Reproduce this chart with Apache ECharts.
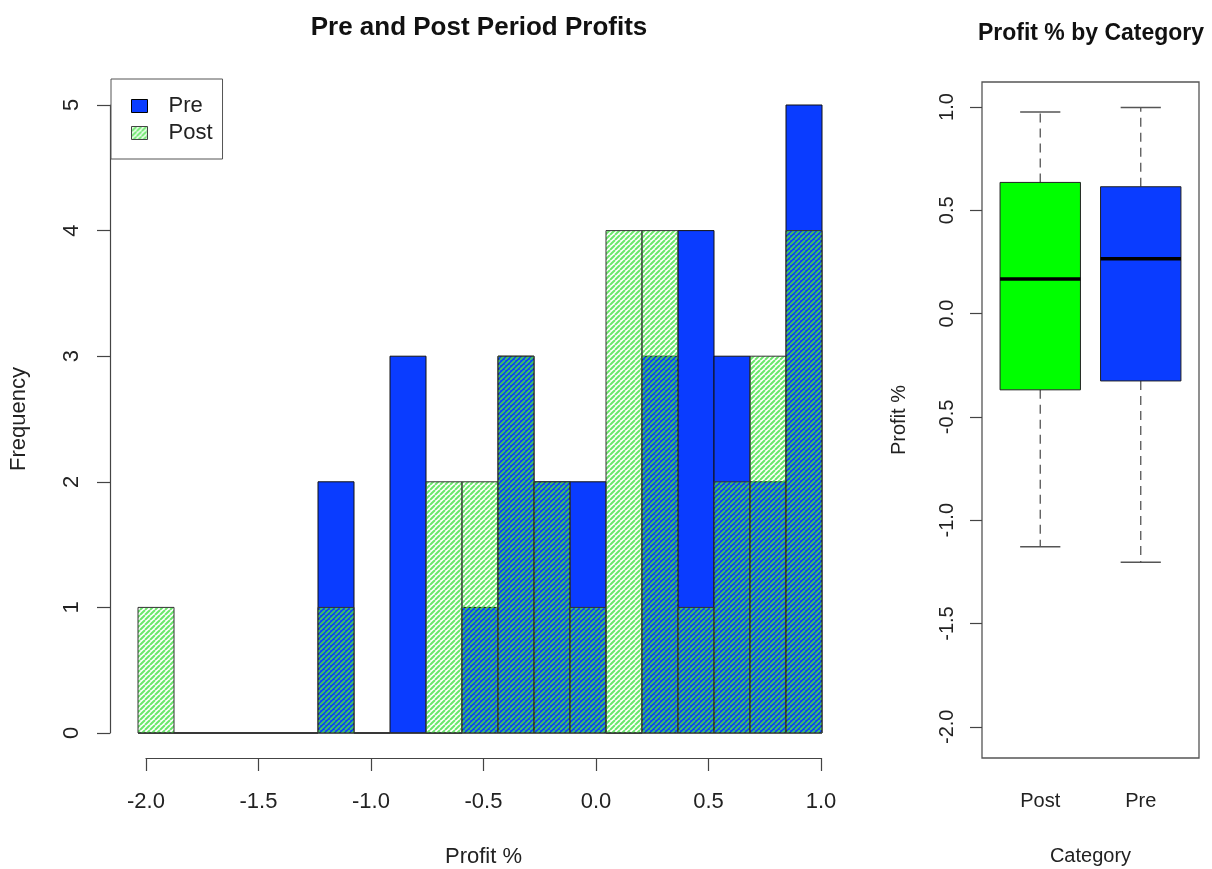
<!DOCTYPE html>
<html>
<head>
<meta charset="utf-8">
<script src="https://cdn.jsdelivr.net/npm/echarts@6/dist/echarts.min.js"></script>
<style>
  html, body { margin: 0; padding: 0; background: #fff; }
  #chart { width: 1212px; height: 869px; }
</style>
</head>
<body>
<div id="chart"></div>
<script>
// histogram breaks and counts (Profit %)
const binEdges = [-2.036, -1.876, -1.716, -1.556, -1.396, -1.236, -1.076, -0.916, -0.756, -0.596,
  -0.436, -0.276, -0.116, 0.044, 0.204, 0.364, 0.524, 0.684, 0.844, 1.004]
const preCounts = [0, 0, 0, 0, 0, 2, 0, 3, 0, 1, 3, 2, 2, 0, 3, 4, 3, 2, 5]
const postCounts = [1, 0, 0, 0, 0, 1, 0, 0, 2, 2, 3, 2, 1, 4, 4, 1, 2, 3, 4]
const profitAxisTicks = [-2.0, -1.5, -1.0, -0.5, 0.0, 0.5, 1.0]
const freqTicks = [0, 1, 2, 3, 4, 5]

// boxplot: [low whisker, Q1, median, Q3, high whisker]
const categories = ['Post', 'Pre']
const boxStats = [
  [-1.129, -0.369, 0.168, 0.635, 0.976],
  [-1.203, -0.326, 0.266, 0.614, 0.997]
]
const outliers = [['Post', -2.032]]
const boxTicks = [-2.0, -1.5, -1.0, -0.5, 0.0, 0.5, 1.0]

const FONT = '"Liberation Sans", Arial, Helvetica, sans-serif'
const BLUE = '#0a3cff'
const GREEN = '#00ff00'
const boxColors = [GREEN, BLUE]

// diagonal hatch like R's density lines
const makeHatch = () => {
  const s = 5
  const c = document.createElement('canvas')
  c.width = s
  c.height = s
  const ctx = c.getContext('2d')
  ctx.strokeStyle = 'rgba(70, 225, 70, 0.8)'
  ctx.lineWidth = 2
  ctx.beginPath()
  for (let k = -1; k <= 1; k++) {
    ctx.moveTo(k * s, s)
    ctx.lineTo(k * s + s, 0)
  }
  ctx.stroke()
  return { image: c, repeat: 'repeat' }
}
const hatch = makeHatch()

const binData = (counts) => counts.map((n, i) => [binEdges[i], binEdges[i + 1], n])

const barRenderer = (fill, stroke) => (params, api) => {
  const p0 = api.coord([api.value(0), 0])
  const p1 = api.coord([api.value(1), api.value(2)])
  return {
    type: 'rect',
    shape: { x: p0[0], y: p1[1], width: p1[0] - p0[0], height: p0[1] - p1[1] },
    style: { fill: fill, stroke: stroke, lineWidth: 1 }
  }
}

const boxRenderer = (params, api) => {
  const i = api.value(0)
  const low = api.coord([i, api.value(1)])
  const q1 = api.coord([i, api.value(2)])
  const med = api.coord([i, api.value(3)])
  const q3 = api.coord([i, api.value(4)])
  const high = api.coord([i, api.value(5)])
  const bw = api.size([1, 0])[0] * 0.8
  const cx = med[0]
  const dash = { stroke: '#555', lineWidth: 1.3, lineDash: [9, 6] }
  const solid = { stroke: '#555', lineWidth: 1.5 }
  return {
    type: 'group',
    children: [
      { type: 'line', shape: { x1: cx, y1: q3[1], x2: cx, y2: high[1] }, style: dash },
      { type: 'line', shape: { x1: cx, y1: q1[1], x2: cx, y2: low[1] }, style: dash },
      { type: 'line', shape: { x1: cx - bw / 4, y1: high[1], x2: cx + bw / 4, y2: high[1] }, style: solid },
      { type: 'line', shape: { x1: cx - bw / 4, y1: low[1], x2: cx + bw / 4, y2: low[1] }, style: solid },
      {
        type: 'rect',
        shape: { x: cx - bw / 2, y: q3[1], width: bw, height: q1[1] - q3[1] },
        style: { fill: boxColors[i], stroke: '#222', lineWidth: 1 }
      },
      { type: 'line', shape: { x1: cx - bw / 2, y1: med[1], x2: cx + bw / 2, y2: med[1] }, style: { stroke: '#000', lineWidth: 3.5 } }
    ]
  }
}

const axisText = (size) => ({ fontSize: size, color: '#222', fontFamily: FONT })

const chart = echarts.init(document.getElementById('chart'))

const option = {
  animation: false,
  backgroundColor: '#fff',
  title: [
    {
      text: 'Pre and Post Period Profits', left: 479, top: 15, textAlign: 'center', padding: 0,
      textStyle: { fontSize: 26, fontWeight: 'bold', color: '#111', fontFamily: FONT }
    },
    {
      text: 'Profit % by Category', left: 1091, top: 22, textAlign: 'center', padding: 0,
      textStyle: { fontSize: 23, fontWeight: 'bold', color: '#111', fontFamily: FONT }
    }
  ],
  legend: {
    orient: 'vertical',
    left: 111,
    top: 79,
    padding: [16, 10, 15, 20],
    itemGap: 5,
    itemWidth: 16,
    itemHeight: 13,
    backgroundColor: '#fff',
    borderColor: '#555',
    borderWidth: 1,
    selectedMode: false,
    textStyle: { fontSize: 22, color: '#222', fontFamily: FONT, padding: [0, 0, 0, 16] },
    data: [
      { name: 'Pre', icon: 'rect', itemStyle: { color: BLUE, borderColor: '#000', borderWidth: 1 } },
      { name: 'Post', icon: 'rect', itemStyle: { color: hatch, borderColor: '#444', borderWidth: 1 } }
    ]
  },
  grid: [
    { left: 138, top: 105, width: 684, height: 628, outerBoundsMode: 'none' },
    { left: 146, top: 757, width: 675, height: 1, outerBoundsMode: 'none' },
    { left: 982, top: 82, width: 217, height: 676, show: true, borderColor: '#555', borderWidth: 1.3, outerBoundsMode: 'none' },
    { left: 990, top: 82, width: 201, height: 676, outerBoundsMode: 'none' }
  ],
  xAxis: [
    { gridIndex: 0, type: 'value', min: binEdges[0], max: binEdges[binEdges.length - 1], show: false },
    {
      gridIndex: 1, type: 'value', min: profitAxisTicks[0], max: profitAxisTicks[profitAxisTicks.length - 1], interval: 0.5,
      axisLine: { onZero: false, lineStyle: { color: '#444', width: 1.2 } },
      axisTick: { length: 13, lineStyle: { color: '#444', width: 1.2 } },
      axisLabel: { ...axisText(22), margin: 33, formatter: (v) => v.toFixed(1), showMinLabel: true, showMaxLabel: true },
      splitLine: { show: false },
      name: 'Profit %', nameLocation: 'middle', nameGap: 88, nameTextStyle: axisText(22)
    },
    { gridIndex: 2, type: 'value', min: 0, max: 1, show: false },
    {
      gridIndex: 3, type: 'category', data: categories,
      axisLine: { show: false, onZero: false },
      axisTick: { alignWithLabel: true, length: 14, lineStyle: { color: '#444', width: 1.2 } },
      axisLabel: { ...axisText(20), margin: 33 },
      name: 'Category', nameLocation: 'middle', nameGap: 88, nameTextStyle: axisText(20)
    }
  ],
  yAxis: [
    {
      gridIndex: 0, type: 'value', min: freqTicks[0], max: freqTicks[freqTicks.length - 1], interval: 1, offset: 28,
      axisLine: { show: true, onZero: false, lineStyle: { color: '#444', width: 1.2 } },
      axisTick: { show: true, length: 13, lineStyle: { color: '#444', width: 1.2 } },
      axisLabel: { ...axisText(22), rotate: 90, margin: 27 },
      splitLine: { show: false },
      name: 'Frequency', nameLocation: 'middle', nameGap: 80, nameTextStyle: axisText(22)
    },
    { gridIndex: 1, type: 'value', show: false },
    { gridIndex: 2, type: 'value', min: 0, max: 1, show: false },
    {
      gridIndex: 3, type: 'value', min: -2.151, max: 1.121, offset: 8,
      axisLine: { show: false, onZero: false },
      axisTick: { show: true, length: 12, customValues: boxTicks, lineStyle: { color: '#444', width: 1.2 } },
      axisLabel: { ...axisText(20), rotate: 90, margin: 25, customValues: boxTicks, formatter: (v) => v.toFixed(1) },
      splitLine: { show: false },
      name: 'Profit %', nameLocation: 'middle', nameGap: 73, nameTextStyle: axisText(20)
    }
  ],
  series: [
    {
      name: 'Pre', type: 'custom', xAxisIndex: 0, yAxisIndex: 0,
      itemStyle: { color: BLUE },
      renderItem: barRenderer(BLUE, '#111'),
      encode: { x: [0, 1], y: 2 },
      data: binData(preCounts)
    },
    {
      name: 'Post', type: 'custom', xAxisIndex: 0, yAxisIndex: 0,
      itemStyle: { color: '#90ee90' },
      renderItem: barRenderer(hatch, '#333'),
      encode: { x: [0, 1], y: 2 },
      data: binData(postCounts)
    },
    {
      name: 'box', type: 'custom', xAxisIndex: 3, yAxisIndex: 3,
      renderItem: boxRenderer,
      encode: { x: 0, y: [1, 2, 3, 4, 5] },
      data: boxStats.map((s, i) => [i, ...s])
    },
    {
      name: 'outlier', type: 'scatter', xAxisIndex: 3, yAxisIndex: 3,
      symbol: 'emptyCircle', symbolSize: 10,
      itemStyle: { color: '#fff', borderColor: '#222', borderWidth: 1.3 },
      data: outliers
    }
  ]
}

chart.setOption(option)
</script>
</body>
</html>
